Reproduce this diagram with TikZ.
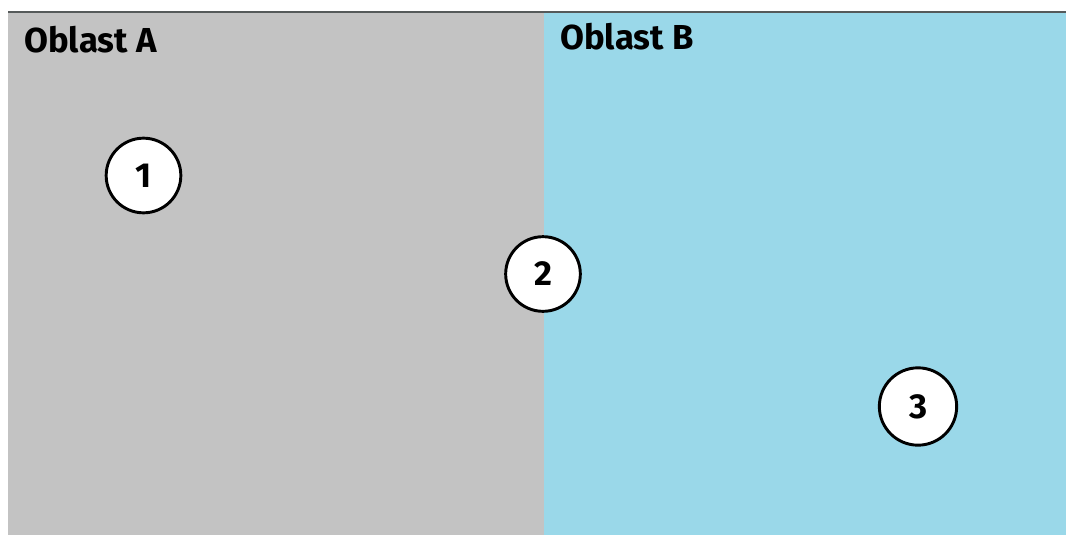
\documentclass[tikz,border=0pt]{standalone}
\usepackage{fontspec}
\setmainfont{Fira Sans}

\begin{document}
\begin{tikzpicture}[x=0.75pt,y=0.75pt,yscale=-1,xscale=1,
  numcircle/.style={circle, draw={rgb, 255:red, 0; green, 0; blue, 0 }, line width=2.2, fill=white, minimum size=56pt, inner sep=0pt, font=\fontsize{26}{30}\selectfont\bfseries},
  arealabel/.style={anchor=base west, inner sep=0pt, font=\fontsize{26}{30}\selectfont\bfseries}]
\useasboundingbox (0,0) rectangle (1066,535);

%Shape: Rectangle [id:oblastA]
\draw [draw opacity=0][fill={rgb, 255:red, 195; green, 195; blue, 195 }  ,fill opacity=1 ] (8,12) -- (544,12) -- (544,535) -- (8,535) -- cycle ;
%Shape: Rectangle [id:oblastB]
\draw [draw opacity=0][fill={rgb, 255:red, 154; green, 216; blue, 233 }  ,fill opacity=1 ] (544,12) -- (1066,12) -- (1066,535) -- (544,535) -- cycle ;
%Straight Lines [id:topedge]
\draw [color={rgb, 255:red, 85; green, 90; blue, 90 }  ,draw opacity=1 ][line width=1.1]    (8,12) -- (1066,12) ;

% Text Node
\node [arealabel] (lblA) at (24,53) {Oblast A};
% Text Node
\node [arealabel] (lblB) at (560,50) {Oblast B};

%Shape: Circle
\node [numcircle] (p1) at (143.5,175.5) {1};
%Shape: Circle
\node [numcircle] (p2) at (543,274) {2};
%Shape: Circle
\node [numcircle, minimum size=58pt] (p3) at (918,406.5) {3};

\end{tikzpicture}
\end{document}
